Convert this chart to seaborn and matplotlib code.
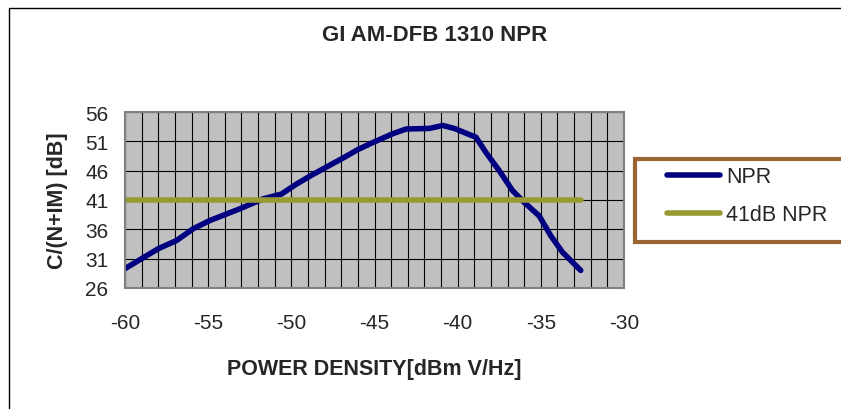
import numpy as np
import pandas as pd
import matplotlib
matplotlib.use('Agg')
import matplotlib.pyplot as plt
from matplotlib.patches import Rectangle
from matplotlib.lines import Line2D
from matplotlib.ticker import MultipleLocator
import seaborn as sns

# values
power_density = [-60.0, -58.0, -56.9, -55.9, -54.9, -53.1, -51.7, -50.6, -49.7, -48.8,
                 -47.9, -46.8, -46.0, -45.1, -43.9, -43.1, -41.7, -40.9, -40.2, -39.6,
                 -38.9, -38.3, -37.5, -36.7, -36.0, -35.1, -34.4, -33.7, -32.6]
npr_db = [29.3, 32.7, 34.1, 36.1, 37.5, 39.5, 41.2, 42.0, 43.7, 45.2,
          46.6, 48.3, 49.6, 50.8, 52.3, 53.1, 53.2, 53.7, 53.2, 52.5,
          51.7, 49.1, 46.0, 42.6, 40.6, 38.3, 34.9, 32.1, 29.0]
ref_level = 41

df = pd.DataFrame({'x': power_density, 'NPR': npr_db})
df['41dB NPR'] = ref_level
long_df = df.melt(id_vars='x', var_name='series', value_name='y')

sns.set_style('white')
plt.rcParams['font.family'] = ['Liberation Sans', 'DejaVu Sans']
plt.rcParams['axes.unicode_minus'] = False

W, H = 841, 410
fig = plt.figure(figsize=(W / 100, H / 100), dpi=100)

# outer chart border (clipped at right/bottom like the source)
fig.add_artist(Rectangle((9 / W, -0.1), 1.2, (H - 9) / H + 0.1, transform=fig.transFigure,
                         fill=False, edgecolor='black', lw=1.0))

ax = fig.add_axes([125 / W, (H - 289) / H, 499 / W, 176 / H])
ax.set_facecolor('#c0c0c0')

sns.lineplot(data=long_df, x='x', y='y', hue='series',
             palette={'NPR': '#000080', '41dB NPR': '#999933'},
             linewidth=4, ax=ax, legend=False, sort=False,
             solid_capstyle='round')

ax.set_xlim(-60, -30)
ax.set_ylim(26, 56)
ax.set_xticks(np.arange(-60, -29, 5))
ax.xaxis.set_minor_locator(MultipleLocator(1))
ax.set_yticks(np.arange(26, 57, 5))
ax.grid(True, which='major', color='black', lw=0.8)
ax.grid(True, which='minor', axis='x', color='black', lw=0.8)
ax.set_axisbelow(True)
for s in ax.spines.values():
    s.set_color('#808080')
    s.set_linewidth(1.5)
ax.tick_params(axis='both', which='major', direction='out', length=5, width=0.8,
               color='black', labelsize=15)
ax.tick_params(axis='x', which='minor', length=0)
ax.tick_params(axis='x', pad=13)
ax.tick_params(axis='y', pad=7)

ax.set_xlabel('POWER DENSITY[dBm V/Hz]', fontsize=15.5, fontweight='bold', labelpad=19)
ax.set_ylabel('C/(N+IM) [dB]', fontsize=15.5, fontweight='bold', labelpad=12)
fig.text(435 / W, (H - 35.5) / H, 'GI AM-DFB 1310 NPR', ha='center', va='center',
         fontsize=16, fontweight='bold')

# legend frame
fig.add_artist(Rectangle((635 / W, (H - 243) / H), 0.5, 83 / H, transform=fig.transFigure,
                         facecolor='white', edgecolor='#996633', lw=3.0))
handles = [Line2D([], [], color='#000080', lw=4, solid_capstyle='round'),
           Line2D([], [], color='#999933', lw=4, solid_capstyle='round')]
fig.legend(handles, ['NPR', '41dB NPR'], loc='upper left',
           bbox_to_anchor=(650 / W, (H - 150) / H), frameon=False,
           fontsize=15.5, handlelength=2.45, handletextpad=0.28, labelspacing=0.8,
           borderpad=0.3)

fig.savefig('out.png', dpi=100)
